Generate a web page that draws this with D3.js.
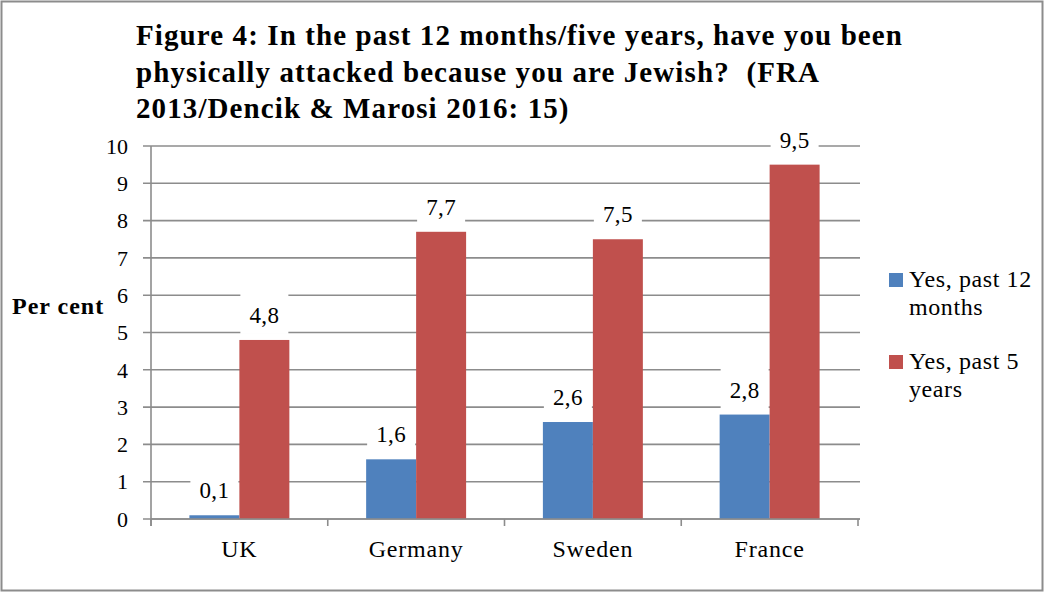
<!DOCTYPE html>
<html><head><meta charset="utf-8">
<script src="https://cdn.jsdelivr.net/npm/d3@7"></script>
<style>body{margin:0;background:#fff}svg{display:block}text{font-family:"Liberation Serif","DejaVu Serif",serif;fill:#000}</style>
</head><body><svg id="c" width="1045" height="593"></svg>
<script>
const categories = ["UK", "Germany", "Sweden", "France"];
const seriesNames = ["Yes, past 12 months", "Yes, past 5 years"];
const past12Months = [0.1, 1.6, 2.6, 2.8];
const past5Years = [4.8, 7.7, 7.5, 9.5];
const yTicks = [0,1,2,3,4,5,6,7,8,9,10];
const titleLines = ["Figure 4: In the past 12 months/five years, have you been",
  "physically attacked because you are Jewish?  (FRA",
  "2013/Dencik & Marosi 2016: 15)"];
const legendLines = [["Yes, past 12", "months"], ["Yes, past 5", "years"]];
const colors = ["#4F81BD", "#C0504D"];
const seriesValues = [past12Months, past5Years];

const svg = d3.select("#c");
svg.append("rect").attr("x",1.5).attr("y",1.5).attr("width",1041).attr("height",589)
  .attr("fill","#fff").attr("stroke","#8c8c8c").attr("stroke-width",2);

const pL = 151, pR = 858, pT = 146, pB = 519;
const x0 = d3.scaleBand().domain(categories).range([pL, pR]).paddingInner(0).paddingOuter(0);
const x1 = d3.scaleBand().domain(d3.range(seriesNames.length)).range([0, x0.bandwidth()]).paddingInner(0).paddingOuter(0.768);
const y = d3.scaleLinear().domain([0, 10]).range([pB, pT]);

// gridlines
svg.append("g").selectAll("line").data(yTicks).join("line")
  .attr("x1", 143).attr("x2", 860).attr("y1", d=>y(d)).attr("y2", d=>y(d))
  .attr("stroke","#8c8c8c").attr("stroke-width",1.6);
// y tick labels
svg.append("g").selectAll("text").data(yTicks).join("text")
  .attr("x",128).attr("y",d=>y(d)).attr("dy","0.35em").attr("text-anchor","end")
  .style("font-size","22px").text(d=>d);
// y axis line
svg.append("line").attr("x1",pL).attr("x2",pL).attr("y1",pT).attr("y2",pB+7)
  .attr("stroke","#8c8c8c").attr("stroke-width",1.6);

// bars
const groups = svg.append("g").selectAll("g").data(categories).join("g")
  .attr("transform", c=>`translate(${x0(c)},0)`);
groups.selectAll("rect").data((c,i)=>seriesValues.map((s,j)=>({j, v:s[i]}))).join("rect")
  .attr("x", d=>x1(d.j)).attr("width", x1.bandwidth())
  .attr("y", d=>y(d.v)).attr("height", d=>y(0)-y(d.v)).attr("fill", d=>colors[d.j]);

// x axis
svg.append("line").attr("x1",pL).attr("x2",pR+2).attr("y1",pB).attr("y2",pB)
  .attr("stroke","#8c8c8c").attr("stroke-width",1.6);
svg.append("g").selectAll("line").data(categories.concat(["end"])).join("line")
  .attr("x1",(c,i)=> i<categories.length ? x0(c) : pR).attr("x2",(c,i)=> i<categories.length ? x0(c) : pR)
  .attr("y1",pB).attr("y2",pB+7).attr("stroke","#8c8c8c").attr("stroke-width",1.6);
svg.append("g").selectAll("text").data(categories).join("text")
  .attr("x",c=>x0(c)+x0.bandwidth()/2).attr("y",557).attr("text-anchor","middle")
  .style("font-size","24px").style("letter-spacing","0.8px").text(c=>c);

// data labels
const labs = svg.append("g").selectAll("g").data(categories.flatMap((c,i)=>seriesValues.map((s,j)=>({c,j,v:s[i]})))).join("g")
  .attr("transform", d=>`translate(${x0(d.c)+x1(d.j)+x1.bandwidth()/2},${y(d.v)-17})`);
labs.append("rect").attr("x",-24).attr("y",-30).attr("width",48).attr("height",41).attr("fill","#fff");
labs.append("text").attr("text-anchor","middle").style("font-size","23px").style("letter-spacing","0.4px")
  .text(d=>d3.format(".1f")(d.v).replace(".",","));

// y title
svg.append("text").attr("x",12).attr("y",314).style("font-size","24px").style("font-weight","bold")
  .style("letter-spacing","1px").text("Per cent");

// title
svg.append("g").selectAll("text").data(titleLines).join("text")
  .attr("x",136).attr("y",(d,i)=>45+i*36.5).style("font-size","29px").style("font-weight","bold")
  .style("letter-spacing","1.1px").attr("xml:space","preserve").text(d=>d);

// legend
const lg = svg.append("g").selectAll("g").data(seriesNames).join("g")
  .attr("transform",(d,i)=>`translate(889,${273+i*82})`);
lg.append("rect").attr("width",14).attr("height",14).attr("fill",(d,i)=>colors[i]);
lg.each(function(d,i){
  d3.select(this).selectAll("text").data(legendLines[i]).join("text")
    .attr("x",20).attr("y",(t,k)=>14+k*28.3).style("font-size","24px").style("letter-spacing","0.6px").text(t=>t);
});
</script></body></html>
